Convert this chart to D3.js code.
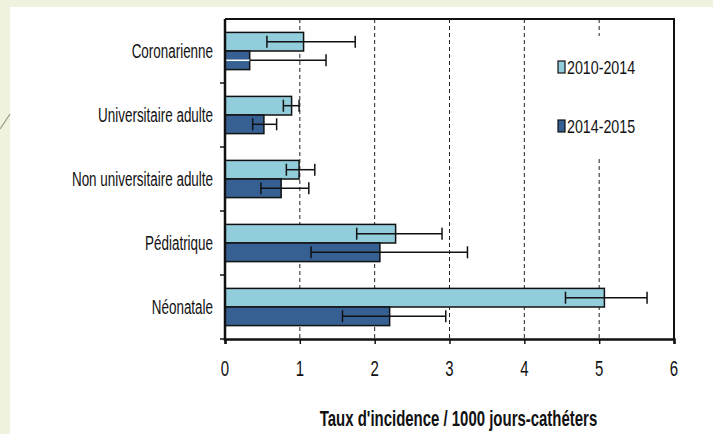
<!DOCTYPE html>
<html>
<head>
<meta charset="utf-8">
<script src="https://cdn.jsdelivr.net/npm/d3@7"></script>
<style>
  html, body { margin: 0; padding: 0; background: #ffffff; }
  svg { display: block; }
  text { font-family: "Liberation Sans", Arial, sans-serif; fill: #111; }
</style>
</head>
<body>
<script>
// Catheter-related infection incidence by unit type, two periods, with confidence intervals
const categories = ["Coronarienne", "Universitaire adulte", "Non universitaire adulte", "Pédiatrique", "Néonatale"];
const seriesNames = ["2010-2014", "2014-2015"];
const rate2010 = [1.05, 0.89, 0.99, 2.28, 5.07];
const low2010  = [0.56, 0.78, 0.82, 1.76, 4.55];
const high2010 = [1.74, 0.99, 1.20, 2.90, 5.64];
const rate2014 = [0.33, 0.52, 0.75, 2.07, 2.20];
const low2014  = [0.00, 0.37, 0.48, 1.15, 1.57];
const high2014 = [1.35, 0.69, 1.12, 3.24, 2.95];
const xTicks = [0, 1, 2, 3, 4, 5, 6];
const axisTitle = "Taux d'incidence / 1000 jours-cathéters";

const W = 713, H = 434;
const margin = { left: 225, right: 39, top: 19, bottom: 95 };
const colors = ["#92cddc", "#366092"];

const svg = d3.select("body").append("svg").attr("width", W).attr("height", H);

// condensed text: draw at a point, squeezed horizontally
function narrowText(parent, px, py, str, size, sx, anchor, weight) {
  return parent.append("text")
    .attr("transform", `translate(${px},${py}) scale(${sx},1)`)
    .attr("dy", "0.35em")
    .attr("text-anchor", anchor)
    .attr("font-size", size)
    .attr("font-weight", weight || "normal")
    .text(str);
}

// slide frame: pale green strips along the top and left edges
svg.append("rect").attr("x", 0).attr("y", 0).attr("width", W).attr("height", 7).attr("fill", "#eef2df");
svg.append("rect").attr("x", 0).attr("y", 0).attr("width", 10).attr("height", H).attr("fill", "#eef2df");
svg.append("line").attr("x1", 0).attr("y1", 129).attr("x2", 10).attr("y2", 114)
  .attr("stroke", "#9e9a82").attr("stroke-width", 1.2);

const x = d3.scaleLinear().domain([0, 6]).range([margin.left, W - margin.right]);
const y = d3.scaleBand().domain(categories).range([margin.top, H - margin.bottom]);
const sub = d3.scaleBand().domain(seriesNames).range([0, y.bandwidth()]).paddingOuter(0.72);

const x0 = x(0), x6 = x(6), yTop = margin.top, yBot = H - margin.bottom;

// dashed vertical gridlines
svg.append("g").selectAll("line").data(xTicks.filter(t => t > 0 && t < 6)).join("line")
  .attr("x1", d => x(d)).attr("x2", d => x(d))
  .attr("y1", yTop).attr("y2", yBot)
  .attr("stroke", "#222").attr("stroke-width", 1).attr("stroke-dasharray", "4,3");

const rows = categories.map((c, i) => [
  { cat: c, s: seriesNames[0], v: rate2010[i], lo: low2010[i], hi: high2010[i] },
  { cat: c, s: seriesNames[1], v: rate2014[i], lo: low2014[i], hi: high2014[i] }
]).flat();

// bars
svg.append("g").selectAll("rect").data(rows).join("rect")
  .attr("x", x0)
  .attr("y", d => y(d.cat) + sub(d.s))
  .attr("width", d => x(d.v) - x0)
  .attr("height", sub.bandwidth())
  .attr("fill", d => colors[seriesNames.indexOf(d.s)])
  .attr("stroke", "#111").attr("stroke-width", 1.5);

// error bars
const eb = svg.append("g").selectAll("g").data(rows).join("g");
eb.each(function (d) {
  const g = d3.select(this);
  const cy = y(d.cat) + sub(d.s) + sub.bandwidth() / 2;
  const clipped = d.lo <= 0;
  if (clipped) {
    g.append("line").attr("x1", x0 + 1).attr("x2", x(d.v)).attr("y1", cy).attr("y2", cy)
      .attr("stroke", "#ffffff").attr("stroke-width", 1.5);
    g.append("line").attr("x1", x(d.v)).attr("x2", x(d.hi)).attr("y1", cy).attr("y2", cy)
      .attr("stroke", "#111").attr("stroke-width", 1.5);
  } else {
    g.append("line").attr("x1", x(d.lo)).attr("x2", x(d.hi)).attr("y1", cy).attr("y2", cy)
      .attr("stroke", "#111").attr("stroke-width", 1.5);
    g.append("line").attr("x1", x(d.lo)).attr("x2", x(d.lo)).attr("y1", cy - 6).attr("y2", cy + 6)
      .attr("stroke", "#111").attr("stroke-width", 1.5);
  }
  g.append("line").attr("x1", x(d.hi)).attr("x2", x(d.hi)).attr("y1", cy - 6).attr("y2", cy + 6)
    .attr("stroke", "#111").attr("stroke-width", 1.5);
});

// frame: top and right border
svg.append("path")
  .attr("d", `M${x0},${yTop}H${x6}V${yBot}`)
  .attr("fill", "none").attr("stroke", "#111").attr("stroke-width", 2);

// bottom axis (labels drawn condensed)
const xAxis = svg.append("g").attr("transform", `translate(0,${yBot})`)
  .call(d3.axisBottom(x).tickValues(xTicks).tickFormat("").tickSize(5));
xAxis.select(".domain").attr("stroke", "#111").attr("stroke-width", 2.5);
xAxis.selectAll(".tick line").attr("stroke", "#111").attr("stroke-width", 1.5);
const xLabels = svg.append("g");
xTicks.forEach(t => narrowText(xLabels, x(t), 368, d3.format("d")(t), 22, 0.68, "middle"));

// left axis: ticks at category boundaries, labels centred on bands
const boundaries = categories.map(c => y(c)).concat([yBot]);
const yAxisG = svg.append("g");
yAxisG.append("line").attr("x1", x0).attr("x2", x0).attr("y1", yTop).attr("y2", yBot + 2)
  .attr("stroke", "#111").attr("stroke-width", 2.5);
yAxisG.selectAll("line.tk").data(boundaries.slice(1)).join("line").attr("class", "tk")
  .attr("x1", x0 - 5).attr("x2", x0).attr("y1", d => d).attr("y2", d => d)
  .attr("stroke", "#111").attr("stroke-width", 1.5);
categories.forEach(c => narrowText(yAxisG, x0 - 12, y(c) + y.bandwidth() / 2, c, 21, 0.64, "end"));

// legend
const lg = svg.append("g");
lg.append("rect").attr("x", 542).attr("y", 36).attr("width", 120).attr("height", 122).attr("fill", "#ffffff");
const legendY = [67, 126];
seriesNames.forEach((s, i) => {
  lg.append("rect").attr("x", 558).attr("y", legendY[i] - 6).attr("width", 7).attr("height", 12)
    .attr("fill", colors[i]).attr("stroke", "#111").attr("stroke-width", 1.2);
  narrowText(lg, 567, legendY[i], s, 19, 0.75, "start");
});

// axis title
narrowText(svg, (x0 + x6) / 2 + 9, 418, axisTitle, 22, 0.68, "middle", "bold");
</script>
</body>
</html>
